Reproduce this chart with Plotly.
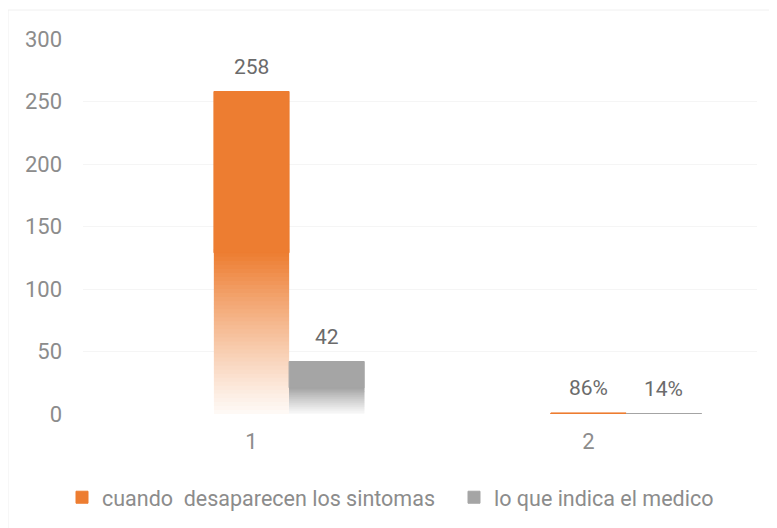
import plotly.graph_objects as go

# data
categories = ['1', '2']
desaparecen = [258, 0.86]
medico = [42, 0.14]
desaparecen_labels = ['258', '86%']
medico_labels = ['42', '14%']

ORANGE = (237, 125, 49)
GRAY = (165, 165, 165)
BAR_W = 0.223
N_SLICES = 40
FADE = 0.5  # lower half of each bar fades to white

# plot area in page pixels (page body adds 8px)
PL, PT, PW, PH = 83, 39, 674, 375


def mix(c, t):
    # t=1 -> colour, t=0 -> white
    r, g, b = [round(255 + (v - 255) * t) for v in c]
    return f'rgb({r},{g},{b})'


series = [
    ('cuando\u00a0 desaparecen los sintomas', desaparecen, desaparecen_labels, ORANGE, -BAR_W / 2, 'legend'),
    ('lo que indica el medico', medico, medico_labels, GRAY, BAR_W / 2, 'legend2'),
]

fig = go.Figure()
annotations = []

for name, vals, labels, col, off, leg in series:
    step = [v * FADE / N_SLICES for v in vals]
    # gradient lower part, each slice overlaps the next to hide seams
    for k in range(N_SLICES):
        u = (k + 0.5) / N_SLICES
        t = 0.04 + 0.96 * u ** 1.1
        fig.add_trace(go.Bar(
            x=categories, y=[2 * s for s in step], base=[k * s for s in step],
            marker=dict(color=mix(col, t), line=dict(width=0)),
            offset=off, width=BAR_W, showlegend=False, hoverinfo='skip'))
    # solid upper part (carries the legend entry)
    fig.add_trace(go.Bar(
        x=categories, y=[v * (1 - FADE) for v in vals], base=[v * FADE for v in vals],
        name=name, legend=leg,
        marker=dict(color=mix(col, 1), line=dict(color=mix(col, 1), width=1)),
        offset=off, width=BAR_W, hoverinfo='skip'))
    for i, (v, lab) in enumerate(zip(vals, labels)):
        annotations.append(dict(
            x=i + off + BAR_W / 2, y=v, xref='x', yref='y', text=lab, showarrow=False,
            yanchor='bottom', yshift=11, font=dict(size=21, color='#6b6b6b')))

legend_font = dict(size=21.5, color='#8c8c8c')

fig.update_layout(
    width=777, height=528,
    margin=dict(l=PL - 8, r=777 + 8 - PL - PW, t=PT - 8, b=528 + 8 - PT - PH),
    barmode='overlay',
    paper_bgcolor='white', plot_bgcolor='white',
    font=dict(family='Roboto, Open Sans, sans-serif', size=22, color='#8c8c8c'),
    annotations=annotations,
    showlegend=True,
    legend=dict(x=(62 - PL) / PW, y=-0.222, xanchor='left', yanchor='middle',
                font=legend_font, itemwidth=30, bgcolor='rgba(0,0,0,0)'),
    legend2=dict(x=(454 - PL) / PW, y=-0.222, xanchor='left', yanchor='middle',
                 font=legend_font, itemwidth=30, bgcolor='rgba(0,0,0,0)'),
    shapes=[dict(type='rect', xref='paper', yref='paper',
                 x0=(8 - PL) / PW, x1=(800 - PL) / PW, y0=(PT + PH - 540) / PH, y1=(PT + PH - 10) / PH,
                 line=dict(color='#f0f0f0', width=1), layer='below')],
)
fig.update_xaxes(type='category', range=[-0.5, 1.5], showgrid=False, zeroline=False,
                 showline=False, ticks='', ticklabelstandoff=12)
fig.update_yaxes(range=[0, 300], dtick=50, showgrid=True, gridcolor='#f5f5f5', gridwidth=1,
                 zeroline=False, showline=False, ticks='', ticklabelstandoff=20)

fig.write_html("out.html")
